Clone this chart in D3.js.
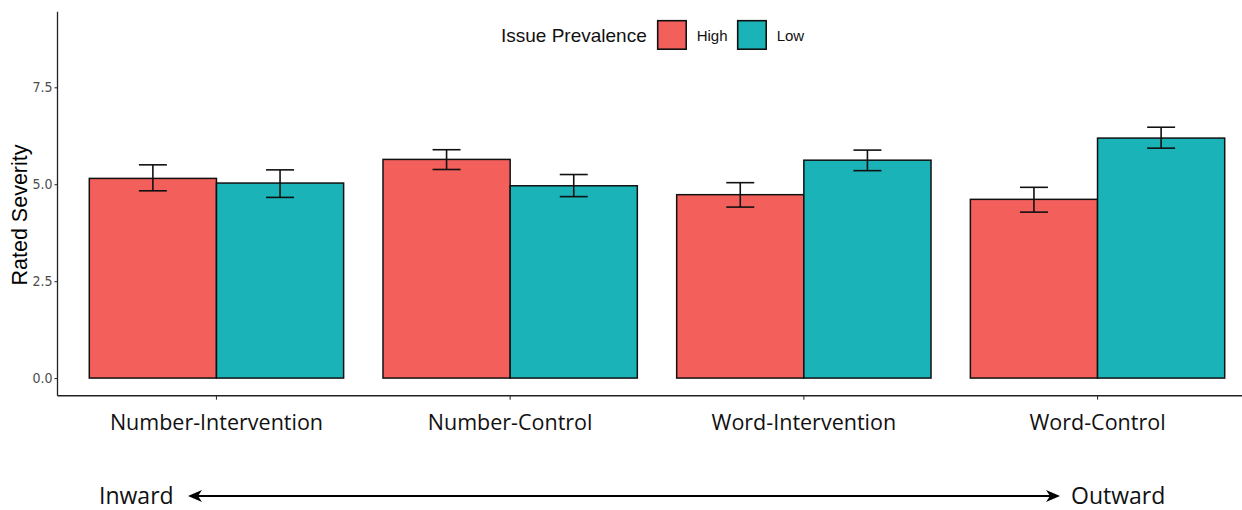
<!DOCTYPE html>
<html>
<head>
<meta charset="utf-8">
<script src="https://cdn.jsdelivr.net/npm/d3@7"></script>
<style>
  html, body { margin: 0; padding: 0; background: #fff; }
  svg { display: block; }
</style>
</head>
<body>
<svg id="chart" width="1242" height="510"></svg>
<script>
// Rated severity by condition and issue prevalence (mean with error bars)
const categories = ["Number-Intervention", "Number-Control", "Word-Intervention", "Word-Control"];
const groups = ["High", "Low"];
const highMean = [5.15, 5.64, 4.73, 4.61];
const highLower = [4.83, 5.38, 4.41, 4.28];
const highUpper = [5.50, 5.89, 5.04, 4.92];
const lowMean = [5.03, 4.96, 5.62, 6.19];
const lowLower = [4.66, 4.68, 5.35, 5.93];
const lowUpper = [5.37, 5.25, 5.88, 6.47];
const yTicks = [0, 2.5, 5.0, 7.5];
const legendTitle = "Issue Prevalence";
const yTitle = "Rated Severity";
const directionLabels = ["Inward", "Outward"];

const colors = { High: "#f35f5b", Low: "#1ab3b8" };

// rows built from the arrays above
const rows = [];
categories.forEach((c, i) => {
  rows.push({ cat: c, grp: "High", mean: highMean[i], lo: highLower[i], hi: highUpper[i] });
  rows.push({ cat: c, grp: "Low", mean: lowMean[i], lo: lowLower[i], hi: lowUpper[i] });
});

const svg = d3.select("#chart");
const axisX0 = 57.5, axisRight = 1242, axisY = 395.7, axisTop = 11.7;

const x = d3.scaleBand().domain(categories).range([89.3, 1224.7]).paddingInner(0.134).paddingOuter(0);
const xInner = d3.scaleBand().domain(groups).range([0, x.bandwidth()]).padding(0);
const y = d3.scaleLinear().domain([-0.455, 9.45]).range([axisY, axisTop]);

// bars
const bars = svg.append("g");
bars.selectAll("rect").data(rows).join("rect")
  .attr("x", d => x(d.cat) + xInner(d.grp))
  .attr("y", d => y(d.mean))
  .attr("width", xInner.bandwidth())
  .attr("height", d => y(0) - y(d.mean))
  .attr("fill", d => colors[d.grp])
  .attr("stroke", "#111")
  .attr("stroke-width", 1.5);

// error bars
const capW = xInner.bandwidth() * 0.22;
const err = svg.append("g").attr("stroke", "#111").attr("stroke-width", 1.6).attr("fill", "none");
rows.forEach(d => {
  const cx = x(d.cat) + xInner(d.grp) + xInner.bandwidth() / 2;
  err.append("line").attr("x1", cx).attr("x2", cx).attr("y1", y(d.hi)).attr("y2", y(d.lo));
  err.append("line").attr("x1", cx - capW / 2).attr("x2", cx + capW / 2).attr("y1", y(d.hi)).attr("y2", y(d.hi));
  err.append("line").attr("x1", cx - capW / 2).attr("x2", cx + capW / 2).attr("y1", y(d.lo)).attr("y2", y(d.lo));
});

// y axis
const yAxis = svg.append("g").attr("transform", `translate(${axisX0},0)`)
  .call(d3.axisLeft(y).tickValues(yTicks).tickSize(3).tickPadding(2).tickFormat(d3.format(".1f")));
yAxis.select(".domain").remove();
yAxis.selectAll(".tick line").attr("stroke", "#333").attr("stroke-width", 1.1);
yAxis.selectAll(".tick text")
  .attr("fill", "#4d4d4d")
  .style("font-family", "'Liberation Sans Narrow', 'Arial Narrow', 'DejaVu Sans Condensed', 'Liberation Sans', sans-serif")
  .style("font-size", "14px");
svg.append("line").attr("x1", axisX0).attr("x2", axisX0).attr("y1", axisTop).attr("y2", axisY)
  .attr("stroke", "#222").attr("stroke-width", 1.3);

// x axis
const xAxis = svg.append("g").attr("transform", `translate(0,${axisY})`)
  .call(d3.axisBottom(x).tickSize(4).tickFormat(""));
xAxis.select(".domain").remove();
xAxis.selectAll(".tick line").attr("stroke", "#333").attr("stroke-width", 1.1);
svg.append("line").attr("x1", axisX0).attr("x2", axisRight).attr("y1", axisY).attr("y2", axisY)
  .attr("stroke", "#222").attr("stroke-width", 1.6);

// category labels
svg.append("g").selectAll("text").data(categories).join("text")
  .attr("x", d => x(d) + x.bandwidth() / 2)
  .attr("y", 430)
  .attr("text-anchor", "middle")
  .style("font-family", "'Open Sans', sans-serif")
  .style("font-size", "21.5px")
  .attr("fill", "#111")
  .text(d => d);

// y title
svg.append("text")
  .attr("transform", "translate(27,215) rotate(-90)")
  .attr("text-anchor", "middle")
  .style("font-family", "'Liberation Sans', Arial, sans-serif")
  .style("font-size", "21.5px")
  .attr("fill", "#000")
  .text(yTitle);

// legend
const lg = svg.append("g");
lg.append("text").attr("x", 501).attr("y", 42)
  .style("font-family", "'Liberation Sans', Arial, sans-serif").style("font-size", "19px")
  .attr("fill", "#111").text(legendTitle);
const keyX = [657.7, 737.7];
groups.forEach((g, i) => {
  lg.append("rect").attr("x", keyX[i]).attr("y", 20.7).attr("width", 28.5).attr("height", 28.5)
    .attr("fill", colors[g]).attr("stroke", "#111").attr("stroke-width", 1.6);
  lg.append("text").attr("x", keyX[i] + 39).attr("y", 40.5)
    .style("font-family", "'Liberation Sans', Arial, sans-serif").style("font-size", "15px")
    .attr("fill", "#111").text(g);
});

// direction arrow
const arrowY = 496, arrowL = 188, arrowR = 1060;
const ag = svg.append("g");
ag.append("line").attr("x1", arrowL + 4).attr("x2", arrowR - 4).attr("y1", arrowY).attr("y2", arrowY)
  .attr("stroke", "#000").attr("stroke-width", 2.2);
ag.append("path")
  .attr("d", `M${arrowL},${arrowY} L${arrowL + 14},${arrowY - 6} L${arrowL + 10},${arrowY} L${arrowL + 14},${arrowY + 6} Z`)
  .attr("fill", "#000");
ag.append("path")
  .attr("d", `M${arrowR},${arrowY} L${arrowR - 14},${arrowY - 6} L${arrowR - 10},${arrowY} L${arrowR - 14},${arrowY + 6} Z`)
  .attr("fill", "#000");
ag.append("text").attr("x", 99).attr("y", 504)
  .style("font-family", "'Open Sans', sans-serif").style("font-size", "23px").attr("fill", "#111")
  .text(directionLabels[0]);
ag.append("text").attr("x", 1071).attr("y", 504)
  .style("font-family", "'Open Sans', sans-serif").style("font-size", "23px").attr("fill", "#111")
  .text(directionLabels[1]);
</script>
</body>
</html>
